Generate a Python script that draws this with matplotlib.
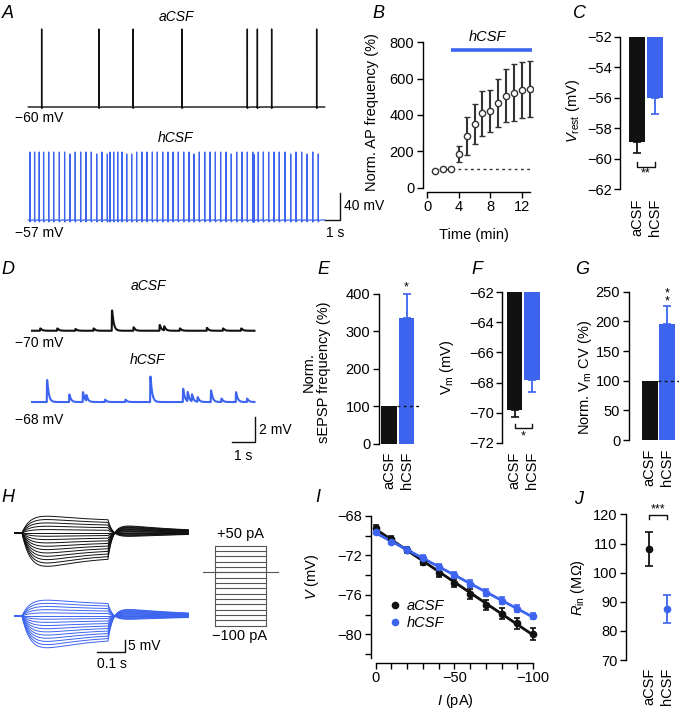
import numpy as np
import matplotlib
matplotlib.use('Agg')
import matplotlib.pyplot as plt

plt.rcParams['font.family'] = ['Liberation Sans', 'DejaVu Sans']
plt.rcParams['mathtext.fontset'] = 'custom'
plt.rcParams['mathtext.rm'] = 'Liberation Sans'
plt.rcParams['mathtext.it'] = 'Liberation Sans:italic'
plt.rcParams['mathtext.bf'] = 'Liberation Sans:bold'

BLACK = '#111111'
BLUE = '#3c64ef'
DARK = '#333333'
FS = 10.5

# ---------------- data ----------------
# A: spike times (s)
spikes_acsf = [0.89, 4.71, 6.98, 10.24, 14.6, 15.27, 16.22, 19.22]
spikes_hcsf = [0.11, 0.42, 0.73, 1.02, 1.36, 1.69, 2.07, 2.42, 2.78, 3.13, 3.49,
               3.84, 4.2, 4.56, 4.91, 5.27, 5.44, 5.69, 5.96, 6.24, 6.56, 6.89,
               7.22, 7.58, 7.91, 8.27, 8.6, 8.96, 9.31, 9.64, 10.0, 10.36, 10.71,
               11.04, 11.4, 11.76, 12.11, 12.47, 12.82, 13.18, 13.53, 13.89,
               14.24, 14.6, 14.96, 15.04, 15.33, 15.67, 16.02, 16.38, 16.73,
               17.11, 17.49, 17.84, 18.22, 18.58, 18.96, 19.33]

# B: normalised AP frequency
b_time = [1, 2, 3, 4, 5, 6, 7, 8, 9, 10, 11, 12, 13]
b_mean = [93, 102, 105, 185, 284, 350, 409, 422, 464, 506, 523, 536, 543]
b_sem = [5, 5, 5, 46, 107, 110, 125, 115, 133, 145, 156, 153, 156]

conds = ['aCSF', 'hCSF']
# C: V rest
c_mean = [-58.9, -56.0]
c_sem = [0.7, 1.05]

# D: sEPSP events (time s, amplitude mV)
epsp_acsf_t = [0.35, 1.1, 1.9, 2.7, 3.51, 4.46, 5.61, 5.81, 6.5, 7.69, 8.4, 9.2]
epsp_acsf_a = [0.2, 0.2, 0.15, 0.2, 1.75, 0.3, 0.5, 0.35, 0.2, 0.25, 0.2, 0.2]
epsp_hcsf_t = [0.65, 1.63, 2.23, 2.38, 3.2, 4.1, 5.2, 6.64, 6.84, 7.03, 7.28,
               7.87, 8.33, 8.97, 9.46]
epsp_hcsf_a = [1.9, 0.65, 0.85, 0.5, 0.2, 0.2, 2.2, 1.15, 0.8, 0.6, 0.4,
               1.0, 0.3, 0.85, 0.3]

# E, F, G
e_mean = [100, 336]
e_sem = [0, 63]
f_mean = [-69.8, -67.85]
f_sem = [0.5, 0.8]
g_mean = [100, 195]
g_sem = [0, 31]

# H: current steps (pA)
h_steps = [50, 40, 30, 20, 10, 0, -10, -20, -30, -40, -50, -60, -70, -80, -90, -100]

# I: V-I relation
i_current = [0, -10, -20, -30, -40, -50, -60, -70, -80, -90, -100]
i_acsf = [-69.2, -70.3, -71.5, -72.65, -73.8, -74.8, -75.9, -77.0, -77.9, -78.9, -79.95]
i_acsf_err = [0.3, 0.3, 0.3, 0.35, 0.4, 0.45, 0.5, 0.5, 0.55, 0.55, 0.6]
i_hcsf = [-69.6, -70.6, -71.5, -72.3, -73.2, -74.0, -74.9, -75.8, -76.6, -77.4, -78.15]
i_hcsf_err = [0.25, 0.3, 0.3, 0.3, 0.3, 0.3, 0.35, 0.35, 0.35, 0.35, 0.35]

# J: input resistance
j_mean = [108.1, 87.6]
j_sem = [5.8, 4.75]

# ---------------- figure ----------------
W, H = 679, 712
fig = plt.figure(figsize=(W / 100, H / 100), dpi=100)


def add_ax(l, t, r, b):
    return fig.add_axes([l / W, 1 - b / H, (r - l) / W, (b - t) / H])


def ftext(x, y, s, **kw):
    kw.setdefault('fontsize', FS)
    kw.setdefault('ha', 'center')
    kw.setdefault('va', 'center')
    fig.text(x / W, 1 - y / H, s, **kw)


def style(ax, left=None, bottom=None):
    for s in ['top', 'right']:
        ax.spines[s].set_visible(False)
    for s in ['left', 'bottom']:
        ax.spines[s].set_linewidth(1.0)
    if left is not None:
        ax.spines['left'].set_bounds(*left)
    if bottom is not None:
        ax.spines['bottom'].set_bounds(*bottom)
    else:
        ax.spines['bottom'].set_visible(False)
    ax.tick_params(direction='out', length=4, width=1, labelsize=FS, pad=2)
    ax.patch.set_alpha(0)


def bar_ticks(ax):
    ax.set_xticks([0, 1])
    ax.set_xticklabels(conds, rotation=90, va='top')
    ax.tick_params(axis='x', length=0, pad=3)


# panel letters
for letter, x, y in [('A', 8, 14), ('B', 378, 14), ('C', 580, 14),
                     ('D', 8, 270), ('E', 323, 270), ('F', 477, 270), ('G', 582, 270),
                     ('H', 8, 498), ('I', 318, 498), ('J', 579, 499)]:
    ftext(x, y, letter, fontsize=13, style='italic')

# ---- A: spiking traces ----
dt = 0.002
ta = np.arange(0, 19.75, dt)


def spike_trace(spikes, amp, ahp):
    v = np.zeros_like(ta)
    for s in spikes:
        i = int(round(s / dt))
        after = ta > s
        v[after] -= ahp * np.exp(-(ta[after] - s) / 0.05)
        v[i] += amp
    return v


axA = add_ax(20, 20, 360, 240)
axA.axis('off')
axA.set_xlim(-0.553, 22.11)
axA.set_ylim(-87, 243)
axA.plot(ta, spike_trace(spikes_acsf, 117, 2) + 112.5, color=BLACK, lw=1.0)
axA.plot(ta, spike_trace(spikes_hcsf, 102, 3) - 57, color=BLUE, lw=0.9)
axA.plot([19.8, 20.8, 20.8], [-57, -57, -17], color=BLACK, lw=1.0)
ftext(176, 17, 'aCSF', style='italic', fontsize=10)
ftext(176, 138, 'hCSF', style='italic', fontsize=10)
ftext(15, 118, '\u221260 mV', ha='left', fontsize=10)
ftext(15, 233, '\u221257 mV', ha='left', fontsize=10)
ftext(344, 206, '40 mV', ha='left', fontsize=10)
ftext(335, 233, '1 s', fontsize=10)

# ---- B: AP frequency time course ----
axB = add_ax(422.6, 33.2, 532.8, 192)
style(axB, left=(0, 800), bottom=(0, 13))
axB.set_xlim(-0.6, 13.4)
axB.set_ylim(-24, 850)
axB.set_xticks([0, 4, 8, 12])
axB.set_yticks([0, 200, 400, 600, 800])
axB.plot([0.7, 13], [100, 100], ls=(0, (2, 2.5)), color=DARK, lw=1.0)
axB.errorbar(b_time, b_mean, yerr=b_sem, fmt='o', ms=4.5, mfc='white', mec=DARK,
             mew=1.0, ecolor=DARK, elinewidth=1.5, capsize=2.5, capthick=1.3, zorder=3)
axB.plot([3, 13.3], [757, 757], color=BLUE, lw=2.6, solid_capstyle='butt')
axB.text(7.7, 830, 'hCSF', style='italic', fontsize=FS, ha='center', va='center')
ftext(372, 112, 'Norm. AP frequency (%)', rotation=90)
ftext(474, 235, 'Time (min)')


# ---- bar panels ----
def hanging_bars(ax, means, sems, top, down=True):
    heights = [m - top for m in means]
    ax.bar([0, 1], heights, bottom=top, width=0.9, color=[BLACK, BLUE])
    for x, m, s, c in zip([0, 1], means, sems, [BLACK, BLUE]):
        if s <= 0:
            continue
        yerr = [[s], [0]] if down else [[0], [s]]
        ax.errorbar([x], [m], yerr=yerr, fmt='none', ecolor=c, elinewidth=1.3,
                    capsize=3, capthick=1.2)


# C
axC = add_ax(620, 29.1, 679, 194)
style(axC, left=(-62, -52))
axC.set_xlim(-0.99, 2.38)
axC.set_ylim(-62.3, -51.5)
axC.set_yticks([-62, -60, -58, -56, -54, -52])
hanging_bars(axC, c_mean, c_sem, -52, down=True)
bar_ticks(axC)
axC.plot([0, 0, 1, 1], [-60.2, -60.5, -60.5, -60.2], color=BLACK, lw=1.0)
axC.text(0.5, -60.95, '**', fontsize=9, ha='center', va='center')
ftext(573, 111, '$V_{\\rm rest}$ (mV)', rotation=90)

# E
axE = add_ax(378.5, 284.6, 420, 447.75)
style(axE, left=(0, 400))
axE.set_xlim(-0.62, 1.78)
axE.set_ylim(-10, 425)
axE.set_yticks([0, 100, 200, 300, 400])
hanging_bars(axE, e_mean, e_sem, 0, down=False)
axE.plot([0.45, 1.7], [100, 100], ls=(0, (2, 2.5)), color=BLACK, lw=1.0, zorder=4)
bar_ticks(axE)
axE.text(1, 402, '*', fontsize=9, ha='center', va='bottom')
ftext(316, 372, 'Norm.\nsEPSP frequency (%)', rotation=90, linespacing=1.1,
      multialignment='center')

# F
axF = add_ax(502.3, 284.8, 545, 447.2)
style(axF, left=(-72, -62))
axF.set_xlim(-0.70, 1.74)
axF.set_ylim(-72.3, -61.5)
axF.set_yticks([-72, -70, -68, -66, -64, -62])
hanging_bars(axF, f_mean, f_sem, -62, down=True)
bar_ticks(axF)
axF.plot([0, 0, 1, 1], [-70.75, -71.05, -71.05, -70.75], color=BLACK, lw=1.0)
axF.text(0.5, -71.6, '*', fontsize=9, ha='center', va='center')
ftext(447, 367, '$\\mathrm{V_m}$ (mV)', rotation=90)

# G
axG = add_ax(628.5, 284.6, 679, 444.2)
style(axG, left=(0, 250))
axG.set_xlim(-1.23, 1.69)
axG.set_ylim(-7, 262)
axG.set_yticks([0, 50, 100, 150, 200, 250])
hanging_bars(axG, g_mean, g_sem, 0, down=False)
axG.plot([0.45, 1.7], [100, 100], ls=(0, (2, 2.5)), color=BLACK, lw=1.0, zorder=4)
bar_ticks(axG)
axG.text(1, 241, '*\n*', fontsize=9, ha='center', va='center', linespacing=0.55)
ftext(585, 378, 'Norm. $\\mathrm{V_m}$ CV (%)', rotation=90)

# ---- D: sEPSP traces ----
td = np.arange(0, 9.8, 0.005)


def epsp_trace(times, amps):
    v = np.zeros_like(td)
    for t0, a in zip(times, amps):
        after = td >= t0
        s = td[after] - t0
        v[after] += a * 1.25 * (np.exp(-s / 0.07) - np.exp(-s / 0.006))
    return v


axD = add_ax(20, 283, 270, 460)
axD.axis('off')
axD.set_xlim(-0.529, 10.48)
axD.set_ylim(-4.53, 9.30)
axD.plot(td, epsp_trace(epsp_acsf_t, epsp_acsf_a) + 5.57, color=BLACK, lw=1.5)
axD.plot(td, epsp_trace(epsp_hcsf_t, epsp_hcsf_a), color=BLUE, lw=1.5)
axD.plot([8.82, 9.82, 9.82], [-3.15, -3.15, -1.15], color=BLACK, lw=1.0)
ftext(148, 286, 'aCSF', style='italic', fontsize=10)
ftext(148, 360, 'hCSF', style='italic', fontsize=10)
ftext(15, 343, '\u221270 mV', ha='left', fontsize=10)
ftext(15, 420, '\u221268 mV', ha='left', fontsize=10)
ftext(259, 430, '2 mV', ha='left', fontsize=10)
ftext(243, 456, '1 s', fontsize=10)

# ---- H: voltage responses to current steps ----
th = np.arange(0, 0.62, 0.001)
t_on, t_off = 0.025, 0.332


def step_family(k):
    out = []
    d = t_off - t_on
    end_f = (1 - np.exp(-d / 0.035)) * (1 - 0.5 * (1 - np.exp(-d / 0.15)))
    for cur in h_steps:
        dv = k * cur
        v = np.zeros_like(th)
        on = (th >= t_on) & (th < t_off)
        s = th[on] - t_on
        v[on] = dv * (1 - np.exp(-s / 0.035)) * (1 - 0.5 * (1 - np.exp(-s / 0.15)))
        post = th >= t_off
        s = th[post] - t_off
        v[post] = dv * end_f * (np.exp(-s / 0.018)
                                - 0.38 * (1 - np.exp(-s / 0.018)) * np.exp(-s / 0.25))
        out.append(v)
    return out


axH = add_ax(10, 500, 200, 680)
axH.axis('off')
axH.set_xlim(-0.0179, 0.6607)
axH.set_ylim(-27.4, 49.7)
for v in step_family(0.2):
    axH.plot(th, v + 35.6, color=BLACK, lw=0.7)
for v in step_family(0.19):
    axH.plot(th, v, color=BLUE, lw=0.7)
axH.plot([0.292, 0.393, 0.393], [-15.3, -15.3, -10.3], color=BLACK, lw=1.0)
ftext(128, 646, '5 mV', ha='left', fontsize=10)
ftext(112, 664, '0.1 s', fontsize=10)

# step protocol
axS = add_ax(200, 540, 282, 632)
axS.axis('off')
axS.set_xlim(-0.088, 0.394)
axS.set_ylim(-111.8, 60.7)
for lvl in h_steps:
    axS.plot([0, 0.3], [lvl, lvl], color='#555555', lw=0.8)
axS.plot([0, 0], [min(h_steps), max(h_steps)], color='#555555', lw=0.8)
axS.plot([0.3, 0.3], [min(h_steps), max(h_steps)], color='#555555', lw=0.8)
axS.plot([-0.07, 0.37], [0, 0], color='#555555', lw=0.8)
ftext(240, 534, '+50 pA')
ftext(240, 636, '\u2212100 pA')

# ---- I: V-I relation ----
axI = add_ax(370.7, 505, 540, 662.7)
style(axI, left=(-82.4, -68), bottom=(-100, 0))
axI.set_xlim(3.17, -104.3)
axI.set_ylim(-82.88, -66.9)
axI.set_yticks([-68, -72, -76, -80])
axI.set_yticks([-70, -74, -78, -82], minor=True)
axI.set_xticks([0, -50, -100])
axI.set_xticks([-10, -20, -30, -40, -60, -70, -80, -90], minor=True)
axI.tick_params(which='minor', direction='out', length=4, width=1)
for y, e, c in [(i_acsf, i_acsf_err, BLACK), (i_hcsf, i_hcsf_err, BLUE)]:
    p = np.polyfit(i_current, y, 1)
    axI.plot([0, -100], np.polyval(p, [0, -100]), color=c, lw=2.0, zorder=2)
    axI.errorbar(i_current, y, yerr=e, fmt='none', ecolor=c, elinewidth=1.3,
                 capsize=2.5, capthick=1.2, zorder=3)
axI.plot(i_current, i_acsf, 'o', color=BLACK, ms=4.5, zorder=4, label='aCSF')
axI.plot(i_current, i_hcsf, 'o', color=BLUE, ms=4.5, zorder=4, label='hCSF')
axI.legend(loc='upper left', bbox_to_anchor=(391 / W, 1 - 599 / H),
           bbox_transform=fig.transFigure, frameon=False, handlelength=0.6,
           handletextpad=0.5, labelspacing=0.2, borderpad=0, borderaxespad=0,
           prop={'style': 'italic', 'size': FS})
ftext(312, 577, '$V$ (mV)', rotation=90)
ftext(455, 701, '$I$ (pA)')

# ---- J: input resistance ----
axJ = add_ax(626, 506, 679, 663.8)
style(axJ, left=(70, 120))
axJ.set_xlim(-1.34, 1.71)
axJ.set_ylim(68.7, 122.9)
axJ.set_yticks([70, 80, 90, 100, 110, 120])
for x, m, s, c in zip([0, 1], j_mean, j_sem, [BLACK, BLUE]):
    axJ.errorbar([x], [m], yerr=[s], fmt='o', ms=4.5, color=c, ecolor=c,
                 elinewidth=1.3, capsize=3, capthick=1.2)
bar_ticks(axJ)
axJ.plot([0, 0, 1, 1], [118.6, 119.8, 119.8, 118.6], color=BLACK, lw=1.0)
axJ.text(0.5, 121.6, '***', fontsize=9, ha='center', va='center')
ftext(578, 588, '$R_{\\rm in}$ (M\u03a9)', rotation=90)

fig.savefig('out.png', dpi=100)
